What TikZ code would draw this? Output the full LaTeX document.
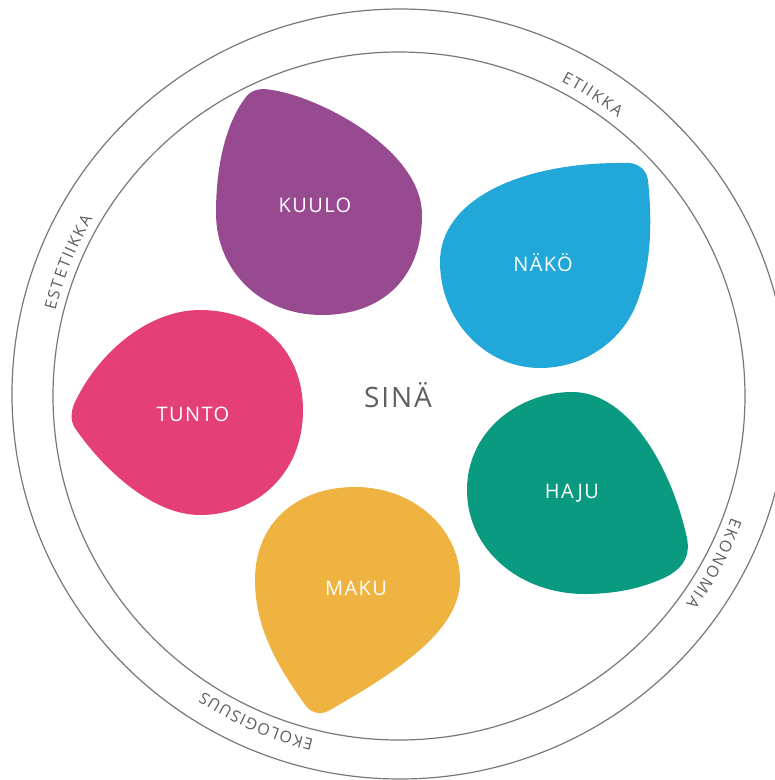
\documentclass[tikz,border=0pt]{standalone}
\usepackage{fontspec}
\setmainfont{Open Sans}
\newfontfamily\lblfont{Open Sans}[LetterSpace=7]
\newfontfamily\ringfont{Open Sans}[Scale=1.6]
\definecolor{kuulo}{RGB}{152,74,145}
\definecolor{nako}{RGB}{34,167,217}
\definecolor{tunto}{RGB}{228,63,118}
\definecolor{haju}{RGB}{10,154,128}
\definecolor{maku}{RGB}{238,179,64}
\definecolor{ringline}{RGB}{120,120,120}
\definecolor{ringtext}{RGB}{95,95,95}
\newlength\rwtot
\newlength\rwcw
\newcommand\rwmeasure[1]{\settowidth{\rwcw}{\ringfont #1}\expandafter\xdef\csname rww#1\endcsname{\the\rwcw}}
% #1 centre angle, #2 baseline radius, #3 letter gap (pt), #4 name prefix, #5 letters
\newcommand\ringword[5]{%
  \global\rwtot=0pt
  \foreach \ch in {#5}{\global\advance\rwtot by \csname rww\ch\endcsname\global\advance\rwtot by #3pt}%
  \global\advance\rwtot by -#3pt
  \pgfmathsetmacro\rwstart{#1+0.5*\rwtot/#2*180/pi}%
  \gdef\rwpos{0}%
  \foreach \ch [count=\rwi] in {#5}{%
    \edef\rwthis{\csname rww\ch\endcsname}%
    \pgfmathsetmacro\rwang{\rwstart-(\rwpos+0.5*\rwthis)/#2*180/pi}%
    \path (ictr) ++(\rwang:#2pt) node[ringch, rotate=\rwang-90] (#4-\rwi) {\ch};
    \pgfmathsetmacro\rwnew{\rwpos+\rwthis+#3}%
    \xdef\rwpos{\rwnew}%
  }%
}
\begin{document}
\rwmeasure{E}\rwmeasure{T}\rwmeasure{I}\rwmeasure{K}\rwmeasure{A}\rwmeasure{S}%
\rwmeasure{O}\rwmeasure{N}\rwmeasure{M}\rwmeasure{L}\rwmeasure{G}\rwmeasure{U}%
\begin{tikzpicture}[x=1pt,y=-1pt,
  ring/.style={draw=ringline, line width=1.2pt},
  sense/.style={text=white, font=\lblfont\fontsize{20}{20}\selectfont},
  ringch/.style={text=ringtext, font=\ringfont, inner sep=0pt, anchor=base}]
\useasboundingbox (0,0) rectangle (775,780);
\clip (0,0) rectangle (775,780);
\fill[white] (0,0) rectangle (775,780);
\coordinate (octr) at (400,394);
\coordinate (ictr) at (399,396);
\draw[ring] (octr) ellipse [x radius=388pt, y radius=385pt];
\draw[ring] (ictr) ellipse [x radius=346pt, y radius=344pt];
% ring labels
\ringword{57.3}{354}{1.8}{etiikka}{E,T,I,I,K,K,A}
\ringword{158}{354}{1.8}{estetiikka}{E,S,T,E,T,I,I,K,K,A}
\ringword{-28}{354}{1.8}{ekonomia}{E,K,O,N,O,M,I,A}
\ringword{246.3}{354}{1.2}{ekologisuus}{E,K,O,L,O,G,I,S,U,U,S}
% blobs
\fill[kuulo] (272,90) .. controls (320,97) and (422,150) .. (422,215)
  .. controls (422,280) and (380,315) .. (322,315)
  .. controls (260,315) and (216,270) .. (216,213)
  .. controls (216,160) and (228,120) .. (246,97)
  .. controls (252,89) and (262,88) .. (272,90) -- cycle;
\fill[nako] (625,163) .. controls (636,162) and (646,168) .. (648,180)
  .. controls (653,230) and (650,270) .. (636,305)
  .. controls (622,340) and (585,368) .. (540,368)
  .. controls (485,368) and (440,320) .. (440,262)
  .. controls (440,200) and (520,162) .. (625,163) -- cycle;
\fill[tunto] (75,428) .. controls (70,421) and (71,410) .. (75,402)
  .. controls (100,350) and (150,310) .. (200,310)
  .. controls (260,310) and (303,350) .. (303,410)
  .. controls (303,475) and (255,515) .. (200,515)
  .. controls (150,515) and (100,465) .. (75,428) -- cycle;
\fill[haju] (572,392) .. controls (630,392) and (672,470) .. (687,538)
  .. controls (690,555) and (685,566) .. (668,576)
  .. controls (640,590) and (610,594) .. (585,594)
  .. controls (520,594) and (467,550) .. (467,490)
  .. controls (467,430) and (520,392) .. (572,392) -- cycle;
\fill[maku] (355,487) .. controls (415,487) and (460,530) .. (460,580)
  .. controls (460,630) and (400,670) .. (330,710)
  .. controls (322,715) and (312,714) .. (306,706)
  .. controls (280,670) and (255,630) .. (255,580)
  .. controls (255,520) and (300,487) .. (355,487) -- cycle;
% labels
\node[sense] (kuulo) at (315,205) {KUULO};
\node[sense] (nako) at (543,263) {NÄKÖ};
\node[sense] (tunto) at (193,414) {TUNTO};
\node[sense] (haju) at (572,493) {HAJU};
\node[sense] (maku) at (356,588) {MAKU};
\node[text=ringtext, font=\lblfont\fontsize{28}{28}\selectfont] (sina) at (398,395) {SINÄ};
\end{tikzpicture}
\end{document}
